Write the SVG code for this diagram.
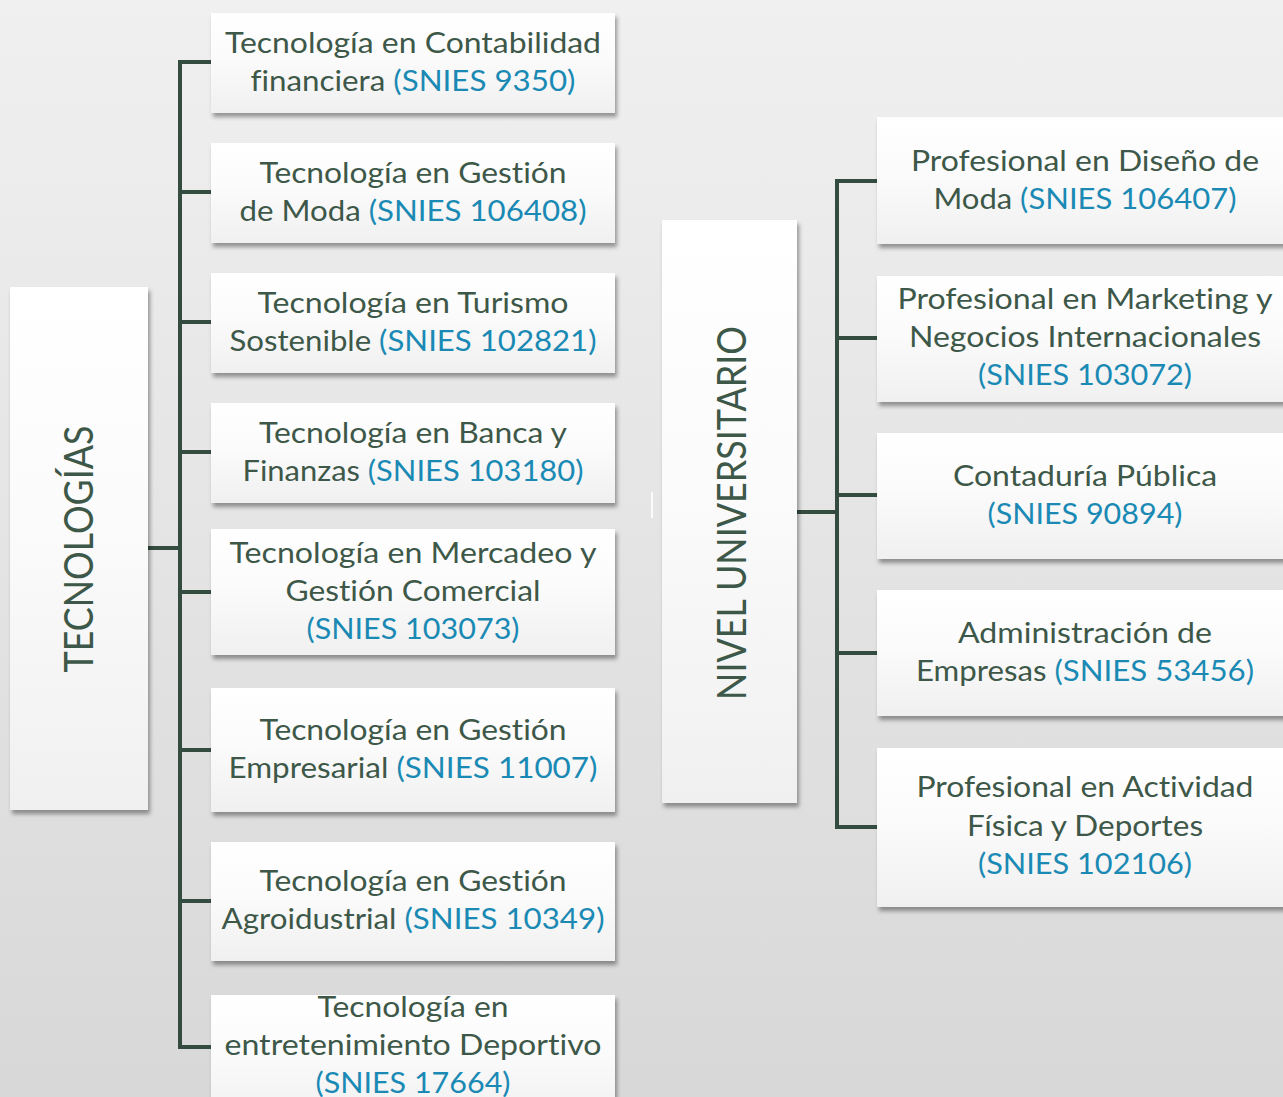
<svg xmlns="http://www.w3.org/2000/svg" width="1283" height="1097" viewBox="0 0 1283 1097">
  <defs>
    <linearGradient id="bg" x1="0" y1="0" x2="0" y2="1">
      <stop offset="0" stop-color="#f0f0f0"/>
      <stop offset="1" stop-color="#d8d8d8"/>
    </linearGradient>
    <linearGradient id="boxg" x1="0" y1="0" x2="0" y2="1">
      <stop offset="0" stop-color="#ffffff"/>
      <stop offset="0.45" stop-color="#fbfbfb"/>
      <stop offset="1" stop-color="#f0f0f0"/>
    </linearGradient>
    <filter id="sh" x="-10%" y="-10%" width="125%" height="130%">
      <feDropShadow dx="2" dy="4" stdDeviation="2.2" flood-color="#000" flood-opacity="0.38"/>
    </filter>
    <style>
      .box { fill: url(#boxg); filter: url(#sh); }
      .t { font-family: Lato, "Open Sans", "Liberation Sans", sans-serif; font-size: 29.5px; fill: #3d5848; text-anchor: middle; font-variant-ligatures: none; font-feature-settings: "liga" 0; }
      .s { fill: #1a8ab4; }
      .big { font-family: Lato, "Open Sans", "Liberation Sans", sans-serif; font-size: 40px; fill: #3d5848; text-anchor: middle; }
      .con { fill: none; stroke: #344c3f; stroke-width: 4; }
    </style>
  </defs>

  <rect x="0" y="0" width="1283" height="1097" fill="url(#bg)"/>
  <rect x="651" y="492" width="2" height="26" fill="#ffffff" opacity="0.85"/>

  <g id="connectors">
    <path class="con" d="M211 62 H180 V1047 H211"/>
    <path class="con" d="M180 192 H211 M180 322 H211 M180 452 H211 M180 592 H211 M180 750 H211 M180 901 H211"/>
    <path class="con" d="M148 548 H180"/>
    <path class="con" d="M877 181 H837 V827 H877"/>
    <path class="con" d="M837 338 H877 M837 495 H877 M837 653 H877"/>
    <path class="con" d="M797 512 H837"/>
  </g>

  <g id="tecnologias">
    <rect class="box" x="10" y="287" width="138" height="523"/>
    <text class="big" transform="translate(93 549) rotate(-90)" textLength="247" lengthAdjust="spacingAndGlyphs">TECNOLOGÍAS</text>
  </g>

  <g id="nivel-universitario">
    <rect class="box" x="662" y="220" width="135" height="583"/>
    <text class="big" transform="translate(746 513) rotate(-90)" textLength="374" lengthAdjust="spacingAndGlyphs">NIVEL UNIVERSITARIO</text>
  </g>

  <g id="t1">
    <rect class="box" x="211" y="13" width="404" height="100"/>
    <text class="t" x="413" y="53" textLength="376" lengthAdjust="spacingAndGlyphs">Tecnología en Contabilidad</text>
    <text class="t" x="413" y="91" textLength="325" lengthAdjust="spacingAndGlyphs">financiera <tspan class="s">(SNIES 9350)</tspan></text>
  </g>
  <g id="t2">
    <rect class="box" x="211" y="143" width="404" height="100"/>
    <text class="t" x="413" y="183" textLength="307" lengthAdjust="spacingAndGlyphs">Tecnología en Gestión</text>
    <text class="t" x="413" y="221" textLength="347" lengthAdjust="spacingAndGlyphs">de Moda <tspan class="s">(SNIES 106408)</tspan></text>
  </g>
  <g id="t3">
    <rect class="box" x="211" y="273" width="404" height="100"/>
    <text class="t" x="413" y="313" textLength="311" lengthAdjust="spacingAndGlyphs">Tecnología en Turismo</text>
    <text class="t" x="413" y="351" textLength="367" lengthAdjust="spacingAndGlyphs">Sostenible <tspan class="s">(SNIES 102821)</tspan></text>
  </g>
  <g id="t4">
    <rect class="box" x="211" y="403" width="404" height="100"/>
    <text class="t" x="413" y="443" textLength="308" lengthAdjust="spacingAndGlyphs">Tecnología en Banca y</text>
    <text class="t" x="413" y="481" textLength="341" lengthAdjust="spacingAndGlyphs">Finanzas <tspan class="s">(SNIES 103180)</tspan></text>
  </g>
  <g id="t5">
    <rect class="box" x="211" y="529" width="404" height="126"/>
    <text class="t" x="413" y="563" textLength="367" lengthAdjust="spacingAndGlyphs">Tecnología en Mercadeo y</text>
    <text class="t" x="413" y="601" textLength="255" lengthAdjust="spacingAndGlyphs">Gestión Comercial</text>
    <text class="t s" x="413" y="639" textLength="213" lengthAdjust="spacingAndGlyphs">(SNIES 103073)</text>
  </g>
  <g id="t6">
    <rect class="box" x="211" y="688" width="404" height="124"/>
    <text class="t" x="413" y="740" textLength="307" lengthAdjust="spacingAndGlyphs">Tecnología en Gestión</text>
    <text class="t" x="413" y="778" textLength="369" lengthAdjust="spacingAndGlyphs">Empresarial <tspan class="s">(SNIES 11007)</tspan></text>
  </g>
  <g id="t7">
    <rect class="box" x="211" y="842" width="404" height="119"/>
    <text class="t" x="413" y="891" textLength="307" lengthAdjust="spacingAndGlyphs">Tecnología en Gestión</text>
    <text class="t" x="413" y="929" textLength="383" lengthAdjust="spacingAndGlyphs">Agroidustrial <tspan class="s">(SNIES 10349)</tspan></text>
  </g>
  <g id="t8">
    <rect class="box" x="211" y="995" width="404" height="125"/>
    <text class="t" x="413" y="1017" textLength="191" lengthAdjust="spacingAndGlyphs">Tecnología en</text>
    <text class="t" x="413" y="1055" textLength="377" lengthAdjust="spacingAndGlyphs">entretenimiento Deportivo</text>
    <text class="t s" x="413" y="1093" textLength="195" lengthAdjust="spacingAndGlyphs">(SNIES 17664)</text>
  </g>

  <g id="u1">
    <rect class="box" x="877" y="117" width="420" height="127"/>
    <text class="t" x="1085" y="171" textLength="348" lengthAdjust="spacingAndGlyphs">Profesional en Diseño de</text>
    <text class="t" x="1085" y="209" textLength="303" lengthAdjust="spacingAndGlyphs">Moda <tspan class="s">(SNIES 106407)</tspan></text>
  </g>
  <g id="u2">
    <rect class="box" x="877" y="276" width="420" height="126"/>
    <text class="t" x="1085" y="309" textLength="375" lengthAdjust="spacingAndGlyphs">Profesional en Marketing y</text>
    <text class="t" x="1085" y="347" textLength="352" lengthAdjust="spacingAndGlyphs">Negocios Internacionales</text>
    <text class="t s" x="1085" y="385" textLength="214" lengthAdjust="spacingAndGlyphs">(SNIES 103072)</text>
  </g>
  <g id="u3">
    <rect class="box" x="877" y="433" width="420" height="126"/>
    <text class="t" x="1085" y="486" textLength="264" lengthAdjust="spacingAndGlyphs">Contaduría Pública</text>
    <text class="t s" x="1085" y="524" textLength="195" lengthAdjust="spacingAndGlyphs">(SNIES 90894)</text>
  </g>
  <g id="u4">
    <rect class="box" x="877" y="590" width="420" height="126"/>
    <text class="t" x="1085" y="643" textLength="254" lengthAdjust="spacingAndGlyphs">Administración de</text>
    <text class="t" x="1085" y="681" textLength="338" lengthAdjust="spacingAndGlyphs">Empresas <tspan class="s">(SNIES 53456)</tspan></text>
  </g>
  <g id="u5">
    <rect class="box" x="877" y="748" width="420" height="159"/>
    <text class="t" x="1085" y="797" textLength="337" lengthAdjust="spacingAndGlyphs">Profesional en Actividad</text>
    <text class="t" x="1085" y="836" textLength="236" lengthAdjust="spacingAndGlyphs">Física y Deportes</text>
    <text class="t s" x="1085" y="874" textLength="214" lengthAdjust="spacingAndGlyphs">(SNIES 102106)</text>
  </g>
</svg>
